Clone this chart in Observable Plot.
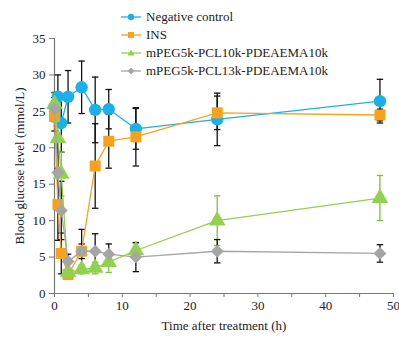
<!DOCTYPE html>
<html>
<head>
<meta charset="utf-8">
<script src="https://cdn.jsdelivr.net/npm/d3@7"></script>
<script src="https://cdn.jsdelivr.net/npm/@observablehq/plot@0.6"></script>
<style>
  body { margin: 0; background: #fff; }
  #wrap { position: relative; width: 399px; height: 337px; font-family: "Liberation Serif", "Times New Roman", "DejaVu Serif", serif; }
  #legend { position: absolute; left: 121px; top: 8px; font-size: 13px; color: #222; }
  .row { display: flex; align-items: center; height: 18px; }
  .row svg { margin-right: 5px; }
</style>
</head>
<body>
<div id="wrap"><div id="legend"></div></div>
<script>
// ---- data ----
const times = [0, 0.5, 1, 2, 4, 6, 8, 12, 24, 48];
const seriesNames = ["Negative control", "INS", "mPEG5k-PCL10k-PDEAEMA10k", "mPEG5k-PCL13k-PDEAEMA10k"];
const negCtrl   = [25.6, 27.0, 23.4, 27.0, 28.3, 25.2, 25.3, 22.6, 23.9, 26.4];
const negCtrlSD = [2.0, 3.0, 4.0, 3.6, 3.6, 4.5, 2.7, 2.8, 3.6, 3.0];
const ins       = [24.3, 12.2, 5.5, 2.6, 5.8, 17.5, 20.9, 21.5, 24.8, 24.5];
const insSD     = [2.0, 4.9, 2.8, 0.4, 3.0, 5.8, 3.7, 4.0, 2.3, 0.8];
const peg10     = [26.0, 21.3, 16.4, 2.9, 3.3, 3.5, 4.3, 5.9, 10.0, 13.1];
const peg10SD   = [1.5, 4.0, 3.0, 0.6, 0.6, 0.8, 1.4, 1.0, 3.4, 3.1];
const peg13     = [25.4, 16.6, 11.4, 4.4, 5.8, 5.8, 5.4, 5.0, 5.8, 5.5];
const peg13SD   = [1.5, 5.0, 4.0, 1.0, 1.0, 2.4, 1.4, 2.0, 1.6, 1.2];
const xTicks = [0, 10, 20, 30, 40, 50];
const yTicks = [0, 5, 10, 15, 20, 25, 30, 35];

// ---- styles ----
const colors = ["#1cb0ea", "#f7a21b", "#92d050", "#a5a5a5"];
const symbols = ["circle", "square", "triangle", "diamond2"];
const sizes = [6.2, 6.2, 6.2, 5.8];
const barColors = ["#111", "#111", "#7fbf3f", "#111"];

const values = [negCtrl, ins, peg10, peg13];
const sds = [negCtrlSD, insSD, peg10SD, peg13SD];
const data = [];
values.forEach((arr, si) => arr.forEach((v, i) => data.push({t: times[i], v, sd: sds[si][i], s: seriesNames[si], si})));

const cap = {draw(ctx, size) { const w = 3.2; ctx.moveTo(-w, 0); ctx.lineTo(w, 0); }};

// draw order: series order (later on top)
const order = [0, 1, 2, 3];
const marks = [];
for (const si of order) {
  const d = data.filter(r => r.si === si);
  marks.push(Plot.ruleX(d, {x: "t", y1: r => r.v - r.sd, y2: r => r.v + r.sd, stroke: barColors[si], strokeWidth: 1.3}));
  marks.push(Plot.dot(d, {x: "t", y: r => r.v + r.sd, symbol: cap, stroke: barColors[si], strokeWidth: 1.3, fill: "none"}));
  marks.push(Plot.dot(d, {x: "t", y: r => r.v - r.sd, symbol: cap, stroke: barColors[si], strokeWidth: 1.3, fill: "none"}));
}
for (const si of order) {
  const d = data.filter(r => r.si === si);
  marks.push(Plot.line(d, {x: "t", y: "v", stroke: colors[si], strokeWidth: 1.3}));
  marks.push(Plot.dot(d, {x: "t", y: "v", symbol: symbols[si], r: sizes[si], fill: colors[si], stroke: "none"}));
}

const chart = Plot.plot({
  width: 399, height: 337,
  marginLeft: 54, marginRight: 6, marginTop: 38, marginBottom: 44,
  style: {fontFamily: '"Liberation Serif", "Times New Roman", "DejaVu Serif", serif', fontSize: "13px", color: "#222", background: "transparent", overflow: "visible"},
  x: {domain: [0, 50]},
  y: {domain: [0, 35]},
  marks: [
    Plot.axisX({ticks: d3.range(0, 51, 5), tickSize: 4, tickPadding: 3, tickFormat: d => xTicks.includes(d) ? String(d) : "", stroke: "#777", label: "Time after treatment (h)", labelAnchor: "center", labelArrow: "none", labelOffset: 36}),
    Plot.axisY({ticks: yTicks, tickSize: 5, tickPadding: 4, stroke: "#777", label: "Blood glucose level (mmol/L)", labelAnchor: "center", labelArrow: "none", labelOffset: 40}),
    Plot.ruleY([0], {stroke: "#777", strokeWidth: 1.2}),
    Plot.ruleX([0], {stroke: "#777", strokeWidth: 1.2}),
    ...marks
  ]
});
document.getElementById("wrap").appendChild(chart);

// ---- legend (HTML overlay) ----
const leg = document.getElementById("legend");
const symPaths = {
  circle: '<circle cx="10" cy="6" r="3.2"/>',
  square: '<rect x="7" y="3" width="6" height="6"/>',
  triangle: '<path d="M10,2.5 L13.5,8.5 L6.5,8.5Z"/>',
  diamond2: '<path d="M10,2.5 L13.5,6 L10,9.5 L6.5,6Z"/>'
};
seriesNames.forEach((name, si) => {
  const row = document.createElement("div");
  row.className = "row";
  row.innerHTML = `<svg width="20" height="12"><line x1="0" y1="6" x2="20" y2="6" stroke="${colors[si]}" stroke-width="1.3"/><g fill="${colors[si]}">${symPaths[symbols[si]]}</g></svg><span>${name}</span>`;
  leg.appendChild(row);
});
</script>
</body>
</html>
